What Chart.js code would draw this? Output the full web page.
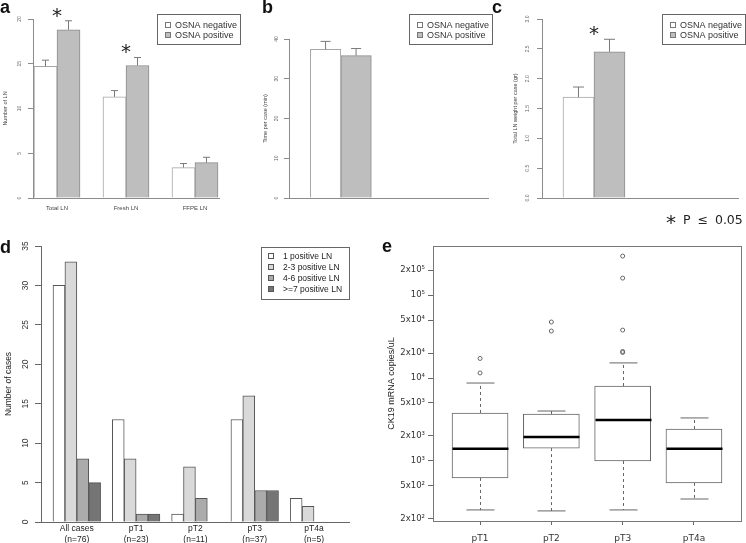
<!DOCTYPE html>
<html lang="en">
<head>
<meta charset="utf-8" />
<title>OSNA lymph node figure</title>
<script src="https://cdn.jsdelivr.net/npm/chart.js@4.4.1/dist/chart.umd.min.js"></script>
<style>
    body { margin: 0; background: #fff; }
    #fig { position: relative; width: 746px; height: 543px; overflow: hidden; font-family: "Liberation Sans", Arial, sans-serif; }
    #fig canvas { position: absolute; left: 0; top: 0; }
    .tag { position: absolute; font-size: 18px; font-weight: bold; line-height: 1; color: #111; }
    .note { position: absolute; left: 666px; top: 207px; font-family: "DejaVu Sans", sans-serif; font-size: 12.5px; line-height: 1; color: #222; word-spacing: 3px; white-space: nowrap; }
    .note .star { font-size: 20px; position: relative; top: 5px; }
</style>
</head>
<body>
<div id="fig">
    <canvas id="chartA" width="746" height="543"></canvas>
    <canvas id="chartB" width="746" height="543"></canvas>
    <canvas id="chartC" width="746" height="543"></canvas>
    <canvas id="chartD" width="746" height="543"></canvas>
    <canvas id="chartE" width="746" height="543"></canvas>
    <div class="tag" style="left:0px; top:-2px;">a</div>
    <div class="tag" style="left:262px; top:-2px;">b</div>
    <div class="tag" style="left:492px; top:-2px;">c</div>
    <div class="tag" style="left:0px; top:238px;">d</div>
    <div class="tag" style="left:382px; top:237px;">e</div>
    <div class="note"><span class="star">*</span> P ≤ 0.05</div>
</div>
<script>
    // a: lymph nodes per case (bar top, top of error bar)
    const lnCategories = ['Total LN', 'Fresh LN', 'FFPE LN'];
    const lnNegative = [14.7, 11.3, 3.4];
    const lnNegativeUpper = [15.4, 12.0, 3.85];
    const lnPositive = [18.8, 14.8, 3.95];
    const lnPositiveUpper = [19.8, 15.7, 4.55];
    const lnSignificant = [true, true, false];
    const lnTicks = [0, 5, 10, 15, 20];
    const lnTickLabels = ['0', '5', '10', '15', '20'];

    // b: time per case (min)
    const timeNegative = [37.4];
    const timeNegativeUpper = [39.4];
    const timePositive = [35.8];
    const timePositiveUpper = [37.6];
    const timeTicks = [0, 10, 20, 30, 40];
    const timeTickLabels = ['0', '10', '20', '30', '40'];

    // c: total LN weight per case (gr)
    const weightNegative = [1.69];
    const weightNegativeUpper = [1.86];
    const weightPositive = [2.45];
    const weightPositiveUpper = [2.66];
    const weightSignificant = [true];
    const weightTicks = [0, 0.5, 1, 1.5, 2, 2.5, 3];
    const weightTickLabels = ['0.0', '0.5', '1.0', '1.5', '2.0', '2.5', '3.0'];

    // d: number of cases by positive LN count
    const stageCategories = [['All cases', '(n=76)'], ['pT1', '(n=23)'], ['pT2', '(n=11)'], ['pT3', '(n=37)'], ['pT4a', '(n=5)']];
    const casesOnePositive = [30, 13, 1, 13, 3];
    const casesTwoToThree = [33, 8, 7, 16, 2];
    const casesFourToSix = [8, 1, 3, 4, 0];
    const casesSevenPlus = [5, 1, 0, 4, 0];
    const caseTicks = [0, 5, 10, 15, 20, 25, 30, 35];
    const caseTickLabels = ['0', '5', '10', '15', '20', '25', '30', '35'];

    // e: CK19 mRNA copies/uL by pT stage
    const boxCategories = ['pT1', 'pT2', 'pT3', 'pT4a'];
    const boxWhiskerLow = [257, 250, 257, 348];
    const boxQ1 = [624, 1430, 1000, 544];
    const boxMedian = [1400, 1950, 3120, 1400];
    const boxQ3 = [3790, 3680, 8010, 2430];
    const boxWhiskerHigh = [8700, 4000, 15200, 3300];
    const boxOutliers = [[11500, 17200], [36800, 47300], [20300, 20900, 37800, 160000, 295000], []];
    const copyTicks = [200, 500, 1000, 2000, 5000, 10000, 20000, 50000, 100000, 200000];
    const copyTickLabels = ['2x10²', '5x10²', '10³', '2x10³', '5x10³', '10⁴', '2x10⁴', '5x10⁴', '10⁵', '2x10⁵'];

    const SANS = '"Liberation Sans", Arial, sans-serif';
    const VERDANA = '"DejaVu Sans", Verdana, sans-serif';
    Chart.defaults.font.family = SANS;

    const fixWidth = w => s => { s.width = w; };
    const fixHeight = h => s => { s.height = h; };
    const useTicks = values => s => { s.ticks = values.map(v => ({ value: v })); };
    const indexPoints = values => values.map((v, i) => ({ x: i, y: v }));

    // R style y labels, turned on their side
    const rotatedYLabels = {
        id: 'rotatedYLabels',
        afterDraw(chart, args, o) {
            const y = chart.scales.y, ctx = chart.ctx;
            ctx.save();
            ctx.font = o.font;
            ctx.fillStyle = o.color;
            ctx.textAlign = 'center';
            ctx.textBaseline = 'middle';
            y.ticks.forEach((t, i) => {
                ctx.save();
                ctx.translate(y.right - o.offset, y.getPixelForValue(t.value));
                ctx.rotate(-Math.PI / 2);
                ctx.fillText(o.labels[i], 0, 0);
                ctx.restore();
            });
            ctx.restore();
        }
    };

    // error bars above each bar plus significance stars
    const errorBars = {
        id: 'errorBars',
        afterDatasetsDraw(chart, args, o) {
            const ctx = chart.ctx, x = chart.scales.x, y = chart.scales.y;
            const groupTop = [];
            ctx.save();
            ctx.strokeStyle = o.color;
            ctx.lineWidth = 1;
            o.uppers.forEach((uppers, di) => {
                chart.getDatasetMeta(di).data.forEach((bar, i) => {
                    const top = y.getPixelForValue(uppers[i]);
                    groupTop[i] = Math.min(groupTop[i] ?? Infinity, top);
                    ctx.beginPath();
                    ctx.moveTo(bar.x, bar.y);
                    ctx.lineTo(bar.x, top);
                    ctx.moveTo(bar.x - o.cap, top);
                    ctx.lineTo(bar.x + o.cap, top);
                    ctx.stroke();
                });
            });
            ctx.fillStyle = '#222';
            ctx.font = '20px ' + VERDANA;
            ctx.textAlign = 'center';
            (o.significant || []).forEach((sig, i) => {
                if (sig) ctx.fillText('*', x.getPixelForValue(i), groupTop[i] + 1);
            });
            ctx.restore();
        }
    };

    const boxedLegend = {
        id: 'boxedLegend',
        afterDraw(chart, args, o) {
            const ctx = chart.ctx;
            ctx.save();
            ctx.lineWidth = 1;
            ctx.strokeStyle = o.frame;
            ctx.strokeRect(o.x + 0.5, o.y + 0.5, o.w, o.h);
            ctx.font = o.font;
            ctx.textBaseline = 'middle';
            chart.data.datasets.forEach((ds, i) => {
                if (!ds.label) return;
                const cy = Math.round(o.y + o.first + i * o.step);
                ctx.fillStyle = ds.backgroundColor;
                ctx.fillRect(o.x + o.swatchX, cy - o.swatch / 2, o.swatch, o.swatch);
                ctx.strokeStyle = o.swatchBorder;
                ctx.strokeRect(o.x + o.swatchX + 0.5, cy - o.swatch / 2 + 0.5, o.swatch - 1, o.swatch - 1);
                ctx.fillStyle = o.color;
                ctx.fillText(ds.label, o.x + o.textX, cy + 0.5);
            });
            ctx.restore();
        }
    };

    // whiskers, medians and the frame for the box plot
    const boxWhiskers = {
        id: 'boxWhiskers',
        afterDatasetsDraw(chart, args, o) {
            const ctx = chart.ctx, x = chart.scales.x, y = chart.scales.y;
            const seg = (x1, y1, x2, y2) => { ctx.beginPath(); ctx.moveTo(x1, y1); ctx.lineTo(x2, y2); ctx.stroke(); };
            ctx.save();
            boxMedian.forEach((m, i) => {
                const cx = Math.round(x.getPixelForValue(i)) + 0.5;
                const hi = y.getPixelForValue(boxWhiskerHigh[i]);
                const lo = y.getPixelForValue(boxWhiskerLow[i]);
                ctx.strokeStyle = o.color;
                ctx.lineWidth = 1;
                ctx.setLineDash(o.dash);
                seg(cx, y.getPixelForValue(boxQ3[i]), cx, hi);
                seg(cx, y.getPixelForValue(boxQ1[i]), cx, lo);
                ctx.setLineDash([]);
                seg(cx - o.cap, hi, cx + o.cap, hi);
                seg(cx - o.cap, lo, cx + o.cap, lo);
                ctx.strokeStyle = o.medianColor;
                ctx.lineWidth = o.medianWidth;
                const my = y.getPixelForValue(m);
                seg(cx - o.half, my, cx + o.half, my);
            });
            const a = chart.chartArea;
            ctx.strokeStyle = o.frame;
            ctx.lineWidth = 1;
            ctx.strokeRect(Math.round(a.left) + 0.5, Math.round(a.top) + 0.5, Math.round(a.right - a.left), Math.round(a.bottom - a.top));
            ctx.restore();
        }
    };

    // panels a, b and c share one look
    function osnaChart(id, p) {
        return new Chart(document.getElementById(id), {
            type: 'bar',
            data: {
                datasets: [
                    { label: 'OSNA negative', data: indexPoints(p.negative), backgroundColor: '#ffffff', borderColor: '#a6a6a6', borderWidth: 1, barThickness: p.bar },
                    { label: 'OSNA positive', data: indexPoints(p.positive), backgroundColor: '#bebebe', borderColor: '#8c8c8c', borderWidth: 1, barThickness: p.bar }
                ]
            },
            options: {
                responsive: false,
                animation: false,
                layout: { padding: p.padding, autoPadding: false },
                plugins: {
                    legend: { display: false },
                    tooltip: { enabled: false },
                    errorBars: { uppers: [p.negativeUpper, p.positiveUpper], significant: p.significant, cap: p.cap, color: '#7a7a7a' },
                    rotatedYLabels: { labels: p.tickLabels, offset: p.labelOffset, font: '5px ' + SANS, color: '#666' },
                    boxedLegend: Object.assign({ w: 83, h: 30, swatchX: 8, swatch: 6, textX: 18, first: 11, step: 9.5, font: '9px ' + SANS, color: '#333', frame: '#666', swatchBorder: '#777' }, p.legend)
                },
                scales: {
                    x: {
                        type: 'linear', min: p.xMin, max: p.xMax, offset: false,
                        afterBuildTicks: useTicks(p.categories.map((c, i) => i)),
                        ticks: { display: p.categories.some(c => c), callback: v => p.categories[v] ?? '', autoSkip: false, maxRotation: 0, padding: 7, font: { size: 6 }, color: '#444' },
                        grid: { display: false, offset: false, drawTicks: false },
                        border: { color: '#8c8c8c' },
                        afterFit: fixHeight(24)
                    },
                    y: {
                        min: 0, max: p.ticks[p.ticks.length - 1], beginAtZero: true,
                        afterBuildTicks: useTicks(p.ticks),
                        ticks: { display: false },
                        grid: { drawOnChartArea: false, drawTicks: true, tickLength: 5, color: '#8c8c8c' },
                        border: { color: '#8c8c8c' },
                        title: { display: true, text: p.title, font: { size: 5.5 }, color: '#444', padding: { top: p.titlePad, bottom: 0 } },
                        afterFit: fixWidth(p.yWidth)
                    }
                }
            },
            plugins: [errorBars, rotatedYLabels, boxedLegend]
        });
    }

    osnaChart('chartA', {
        categories: lnCategories, negative: lnNegative, positive: lnPositive,
        negativeUpper: lnNegativeUpper, positiveUpper: lnPositiveUpper, significant: lnSignificant,
        ticks: lnTicks, tickLabels: lnTickLabels, title: 'Number of LN',
        xMin: -0.348, xMax: 2.348, bar: 23, cap: 3.5,
        padding: { left: 0, top: 19, right: 527, bottom: 321 }, yWidth: 33, titlePad: 2.5, labelOffset: 13,
        legend: { x: 157, y: 14 }
    });

    osnaChart('chartB', {
        categories: [''], negative: timeNegative, positive: timePositive,
        negativeUpper: timeNegativeUpper, positiveUpper: timePositiveUpper, significant: [false],
        ticks: timeTicks, tickLabels: timeTickLabels, title: 'Time per case (min)',
        xMin: -0.5, xMax: 1.42, bar: 30.5, cap: 5,
        padding: { left: 245, top: 39, right: 258, bottom: 321 }, yWidth: 44, titlePad: 17.5, labelOffset: 12,
        legend: { x: 409, y: 14 }
    });

    osnaChart('chartC', {
        categories: [''], negative: weightNegative, positive: weightPositive,
        negativeUpper: weightNegativeUpper, positiveUpper: weightPositiveUpper, significant: weightSignificant,
        ticks: weightTicks, tickLabels: weightTickLabels, title: 'Total LN weight per case (gr)',
        xMin: -0.5, xMax: 1.385, bar: 31, cap: 5.5,
        padding: { left: 502, top: 19, right: 8, bottom: 321 }, yWidth: 40, titlePad: 10.5, labelOffset: 14,
        legend: { x: 662, y: 14 }
    });

    // d: grouped bars of positive LN counts
    const greyBar = (label, values, fill) => ({ label, data: indexPoints(values), backgroundColor: fill, borderColor: '#555', borderWidth: 1, barThickness: 11.9 });
    new Chart(document.getElementById('chartD'), {
        type: 'bar',
        data: {
            datasets: [
                greyBar('1 positive LN', casesOnePositive, '#ffffff'),
                greyBar('2-3 positive LN', casesTwoToThree, '#d9d9d9'),
                greyBar('4-6 positive LN', casesFourToSix, '#ababab'),
                greyBar('>=7 positive LN', casesSevenPlus, '#757575')
            ]
        },
        options: {
            responsive: false,
            animation: false,
            layout: { padding: { left: 0, top: 246, right: 397, bottom: 0 }, autoPadding: false },
            plugins: {
                legend: { display: false },
                tooltip: { enabled: false },
                rotatedYLabels: { labels: caseTickLabels, offset: 15, font: '8.5px ' + SANS, color: '#333' },
                boxedLegend: { x: 261, y: 247, w: 88, h: 52, swatchX: 7, swatch: 6, textX: 22, first: 9, step: 11, font: '8.5px ' + SANS, color: '#222', frame: '#666', swatchBorder: '#555' }
            },
            scales: {
                x: {
                    type: 'linear', min: -0.604, max: 4.59, offset: false,
                    afterBuildTicks: useTicks(stageCategories.map((c, i) => i)),
                    ticks: { callback: v => stageCategories[v] ?? '', autoSkip: false, maxRotation: 0, padding: 1, font: { size: 8.5, lineHeight: 1.3 }, color: '#222' },
                    grid: { display: false, offset: false, drawTicks: false },
                    border: { color: '#666' },
                    afterFit: fixHeight(21)
                },
                y: {
                    min: 0, max: 35,
                    afterBuildTicks: useTicks(caseTicks),
                    ticks: { display: false },
                    grid: { drawOnChartArea: false, drawTicks: true, tickLength: 6, color: '#666' },
                    border: { color: '#666' },
                    title: { display: true, text: 'Number of cases', font: { size: 8.5 }, color: '#222', padding: { top: 3.5, bottom: 0 } },
                    afterFit: fixWidth(41)
                }
            }
        },
        plugins: [rotatedYLabels, boxedLegend]
    });

    // e: box plot on a log axis (boxes are floating bars)
    new Chart(document.getElementById('chartE'), {
        type: 'bar',
        data: {
            datasets: [
                { label: 'IQR', data: boxQ1.map((q, i) => ({ x: i, y: [q, boxQ3[i]] })), backgroundColor: '#ffffff', borderColor: '#666', borderWidth: 1, borderSkipped: false, barThickness: 56 },
                {
                    type: 'scatter', label: 'outliers',
                    data: boxOutliers.flatMap((vals, i) => vals.map(v => ({ x: i, y: v }))),
                    pointRadius: 2, borderColor: '#666', borderWidth: 1, backgroundColor: 'rgba(0,0,0,0)'
                }
            ]
        },
        options: {
            responsive: false,
            animation: false,
            layout: { padding: { left: 380, top: 246, right: 5, bottom: 0 }, autoPadding: false },
            plugins: {
                legend: { display: false },
                tooltip: { enabled: false },
                boxWhiskers: { color: '#666', dash: [3, 3], cap: 14, half: 28, medianColor: '#000', medianWidth: 2.5, frame: '#777' }
            },
            scales: {
                x: {
                    type: 'linear', min: -0.66, max: 3.66, offset: false,
                    afterBuildTicks: useTicks(boxCategories.map((c, i) => i)),
                    ticks: { callback: v => boxCategories[v] ?? '', autoSkip: false, maxRotation: 0, padding: 8, font: { family: VERDANA, size: 9 }, color: '#333' },
                    grid: { drawOnChartArea: false, offset: false, drawTicks: true, tickLength: 4, color: '#666' },
                    border: { display: false },
                    afterFit: fixHeight(22)
                },
                y: {
                    type: 'logarithmic', min: 189, max: 390000, beginAtZero: false,
                    afterBuildTicks: useTicks(copyTicks),
                    ticks: { callback: (v, i) => copyTickLabels[i], autoSkip: false, padding: 3, font: { family: VERDANA, size: 8.5 }, color: '#333' },
                    grid: { drawOnChartArea: false, drawTicks: true, tickLength: 5, color: '#666' },
                    border: { display: false },
                    title: { display: true, text: 'CK19 mRNA copies/uL', font: { size: 9 }, color: '#222', padding: { top: 6.5, bottom: 0 } },
                    afterFit: fixWidth(53)
                }
            }
        },
        plugins: [boxWhiskers]
    });
</script>
</body>
</html>
